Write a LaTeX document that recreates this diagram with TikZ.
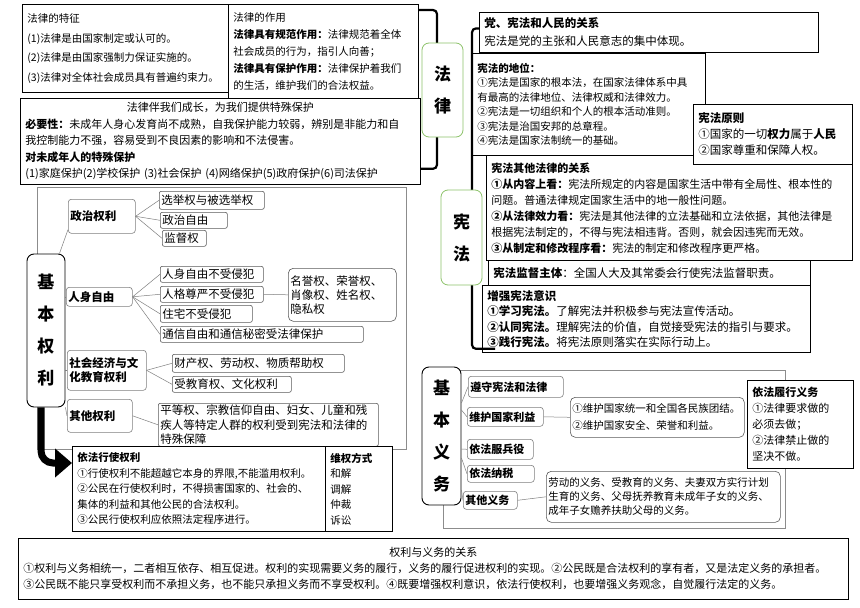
\documentclass[tikz,border=0pt]{standalone}
\usepackage{fontspec}
\setmainfont{Noto Sans CJK SC}
\usepackage{xcolor}
\usepackage{tikz}
\usetikzlibrary{arrows.meta}
\definecolor{labelgreen}{HTML}{8DC26A}
\definecolor{framegray}{HTML}{8C8C8C}
\definecolor{linkgray}{HTML}{7F7F7F}
\definecolor{leafgray}{HTML}{5A5A5A}
\tikzset{
  notebox/.style={
    draw=black,fill=white,line width=.8pt,anchor=north west,
    align=left,inner xsep=5pt,inner ysep=2pt,
    font=\fontsize{11}{16}\selectfont
  },
  catbox/.style={
    rounded corners=3pt,draw=linkgray,fill=white,line width=.6pt,
    anchor=north west,align=left,inner xsep=2pt,inner ysep=1pt,
    font=\bfseries\fontsize{11.5}{13.5}\selectfont
  },
  leafbox/.style={
    rounded corners=2pt,draw=leafgray,fill=white,line width=.6pt,
    anchor=north west,align=left,inner xsep=2pt,inner ysep=1pt,
    font=\fontsize{11.5}{14}\selectfont
  },
  titlebox/.style={
    rounded corners=7pt,draw=black,fill=white,line width=.9pt,
    align=center,inner sep=0pt,font=\bfseries\fontsize{17}{32}\selectfont
  },
  lawbox/.style={titlebox,draw=labelgreen,line width=.8pt},
  groupframe/.style={draw=framegray,line width=.8pt,anchor=north west,inner sep=0pt},
  link/.style={draw=linkgray,line width=.5pt},
  bracket/.style={draw=black,line width=2.2pt,rounded corners=4pt},
  bigarrow/.style={-{Triangle[length=17pt,width=28pt]},draw=black,line width=7pt,rounded corners=12pt}
}
\begin{document}
\begin{tikzpicture}[x=1pt,y=-1pt]
\useasboundingbox[fill=white] (0,0) rectangle (860,608);

\node[notebox,text width=196pt,minimum height=88pt,font=\fontsize{10.5}{19.5}\selectfont] (feature) at (22,4)
{法律的特征\\(1)法律是由国家制定或认可的。\\(2)法律是由国家强制力保证实施的。\\(3)法律对全体社会成员具有普遍约束力。};

\node[notebox,text width=180pt,minimum height=94pt,font=\fontsize{10.5}{17}\selectfont] (role) at (228,4)
{法律的作用\\\textbf{法律具有规范作用：}法律规范着全体\\社会成员的行为，指引人向善；\\\textbf{法律具有保护作用：}法律保护着我们\\的生活，维护我们的合法权益。};

\node[notebox,text width=390pt,minimum height=86pt,font=\fontsize{11}{16.5}\selectfont] (special) at (20,98)
{\makebox[390pt][c]{法律伴我们成长，为我们提供特殊保护}\\\textbf{必要性：}未成年人身心发育尚不成熟，自我保护能力较弱，辨别是非能力和自\\我控制能力不强，容易受到不良因素的影响和不法侵害。\\\textbf{对未成年人的特殊保护}\\(1)家庭保护(2)学校保护~(3)社会保护~(4)网络保护(5)政府保护(6)司法保护};

\coordinate (lawbar) at (437,0);
\coordinate (lawend) at ([yshift=16pt]special.south east);
\draw[bracket] ([yshift=-6pt]role.north east) -| (lawbar |- lawend) -- (lawend);
\node[lawbox,minimum width=41pt,minimum height=94pt] (lawlabel) at (442.5,90) {法\\律};

\node[notebox,text width=329pt,minimum height=40pt,font=\fontsize{11.5}{18}\selectfont] (party) at (479,12)
{\textbf{党、宪法和人民的关系}\\宪法是党的主张和人民意志的集中体现。};

\node[notebox,text width=223pt,minimum height=102pt,font=\fontsize{10.5}{14.5}\selectfont] (status) at (472,53)
{\textbf{宪法的地位：}\\①宪法是国家的根本法，在国家法律体系中具\\有最高的法律地位、法律权威和法律效力。\\②宪法是一切组织和个人的根本活动准则。\\③宪法是治国安邦的总章程。\\④宪法是国家法制统一的基础。};

\node[notebox,text width=356pt,minimum height=105pt,font=\fontsize{11}{16}\selectfont] (relation) at (486,155)
{\textbf{宪法其他法律的关系}\\\textbf{①从内容上看：}宪法所规定的内容是国家生活中带有全局性、根本性的\\问题。普通法律规定国家生活中的地一般性问题。\\\textbf{②从法律效力看：}宪法是其他法律的立法基础和立法依据，其他法律是\\根据宪法制定的，不得与宪法相违背。否则，就会因违宪而无效。\\\textbf{③从制定和修改程序看：}宪法的制定和修改程序更严格。};

\node[notebox,text width=149pt,minimum height=60pt,font=\fontsize{11.5}{16}\selectfont] (principle) at (693,104)
{\textbf{宪法原则}\\①国家的一切\textbf{权力}属于\textbf{人民}\\②国家尊重和保障人权。};

\node[notebox,text width=312pt,minimum height=25pt,font=\fontsize{11.5}{14}\selectfont] (supervise) at (488,260)
{\textbf{宪法监督主体}：全国人大及其常委会行使宪法监督职责。};

\node[notebox,text width=318pt,minimum height=67pt,font=\fontsize{11.5}{15.5}\selectfont] (awareness) at (482,285)
{\textbf{增强宪法意识}\\\textbf{①学习宪法。}了解宪法并积极参与宪法宣传活动。\\\textbf{②认同宪法。}理解宪法的价值，自觉接受宪法的指引与要求。\\\textbf{③践行宪法。}将宪法原则落实在实际行动上。};

\coordinate (xianbar) at (472,0);
\coordinate (xianend) at ([xshift=13pt,yshift=4pt]awareness.south west);
\draw[bracket] ([yshift=4pt]party.west) -| (xianbar |- xianend) -- (xianend);
\node[lawbox,minimum width=41pt,minimum height=95pt] (xianlabel) at (461.5,237.5) {宪\\法};

\node[groupframe,minimum width=369pt,minimum height=262pt] (rightsframe) at (37,187) {};

\node[catbox,text width=63pt,minimum height=34pt] (politics) at (68,199) {政治权利};
\node[catbox,text width=62pt,minimum height=19pt] (person) at (66,287) {人身自由};
\node[catbox,text width=75pt,minimum height=40pt] (socio) at (67,350) {社会经济与文\\化教育权利};
\node[catbox,text width=61pt,minimum height=33pt] (other) at (67,399) {其他权利};

\node[leafbox,text width=101pt,minimum height=18pt] (vote) at (159,191) {选举权与被选举权};
\node[leafbox,text width=63pt,minimum height=16pt] (polfree) at (160,212) {政治自由};
\node[leafbox,text width=40pt,minimum height=16pt] (watch) at (162,230) {监督权};
\node[leafbox,text width=99pt,minimum height=16pt] (body) at (160,266) {人身自由不受侵犯};
\node[leafbox,text width=99pt,minimum height=16pt] (dignity) at (160,286) {人格尊严不受侵犯};
\node[leafbox,text width=88pt,minimum height=17pt] (home) at (160,305) {住宅不受侵犯};
\node[leafbox,text width=199pt,minimum height=16pt] (mail) at (160,326) {通信自由和通信秘密受法律保护};
\node[leafbox,rounded corners=5pt,text width=104pt,minimum height=53pt] (honor) at (288,268) {名誉权、荣誉权、\\肖像权、姓名权、\\隐私权};
\node[leafbox,text width=168pt,minimum height=18pt] (property) at (172,354) {财产权、劳动权、物质帮助权};
\node[leafbox,text width=115pt,minimum height=16pt] (culture) at (172,376) {受教育权、文化权利};
\node[leafbox,text width=216pt,minimum height=43pt,font=\fontsize{11.5}{14.5}\selectfont] (equal) at (158,403) {平等权、宗教信仰自由、妇女、儿童和残\\疾人等特定人群的权利受到宪法和法律的\\特殊保障};

\node[titlebox,minimum width=38pt,minimum height=153pt] (rightslabel) at (46,330.5) {基\\本\\权\\利};

\draw[link] ([xshift=-6pt]rightslabel.north east) -- ([yshift=4pt]politics.south west);
\draw[link] (rightslabel.east |- person.west) -- (person.west);
\draw[link] (rightslabel.east |- socio.west) -- (socio.west);
\draw[link] (rightslabel.south east) -- (other.west);
\draw[link] (politics.east) -- (vote.west);
\draw[link] (politics.east) -- (polfree.west);
\draw[link] (politics.east) -- (watch.west);
\draw[link] (person.east) -- (body.west);
\draw[link] (person.east) -- (dignity.west);
\draw[link] (person.east) -- (home.west);
\draw[link] (person.east) -- (mail.west);
\draw[link] (dignity.east) -- (honor.west);
\draw[link] (socio.east) -- (property.west);
\draw[link] (socio.east) -- (culture.west);
\draw[link] (other.east) -- (equal.west);

\node[notebox,text width=243pt,minimum height=85pt,font=\fontsize{10.5}{15.5}\selectfont] (exercise) at (72,446)
{\textbf{依法行使权利}\\①行使权利不能超越它本身的界限,不能滥用权利。\\②公民在行使权利时，不得损害国家的、社会的、\\集体的利益和其他公民的合法权利。\\③公民行使权利应依照法定程序进行。};
\node[notebox,text width=57pt,minimum height=85pt,font=\fontsize{10.5}{15.5}\selectfont] (ways) at (325,446)
{\textbf{维权方式}\\和解\\调解\\仲裁\\诉讼};

\draw[bigarrow] ([xshift=-5pt]rightslabel.south) |- ([yshift=-17pt]exercise.north west);

\node[groupframe,minimum width=342pt,minimum height=158pt] (dutyframe) at (443,370) {};

\node[catbox,font=\bfseries\fontsize{11}{13}\selectfont,text width=91pt,minimum height=21pt] (obey) at (468,376) {遵守宪法和法律};
\node[catbox,font=\bfseries\fontsize{11}{13}\selectfont,text width=72pt,minimum height=19pt] (defend) at (467,407) {维护国家利益};
\node[catbox,font=\bfseries\fontsize{11}{13}\selectfont,text width=62pt,minimum height=20pt] (army) at (467,439) {依法服兵役};
\node[catbox,font=\bfseries\fontsize{11}{13}\selectfont,text width=63pt,minimum height=17pt] (tax) at (467,465) {依法纳税};
\node[catbox,font=\bfseries\fontsize{11}{13}\selectfont,text width=50pt,minimum height=18pt] (otherduty) at (463,491) {其他义务};

\node[leafbox,rounded corners=5pt,text width=170pt,minimum height=40pt,font=\fontsize{10.5}{17}\selectfont] (unity) at (570,397)
{①维护国家统一和全国各民族团结。\\②维护国家安全、荣誉和利益。};
\node[leafbox,rounded corners=5pt,text width=230pt,minimum height=51pt,font=\fontsize{10.5}{14}\selectfont] (labour) at (546,471)
{劳动的义务、受教育的义务、夫妻双方实行计划\\生育的义务、父母抚养教育未成年子女的义务、\\成年子女赡养扶助父母的义务。};

\node[titlebox,minimum width=39pt,minimum height=138pt] (dutylabel) at (441.5,436) {基\\本\\义\\务};

\draw[link] ([yshift=33pt]dutylabel.east) -- (obey.west);
\draw[link] ([yshift=26pt]dutylabel.east) -- (defend.west);
\draw[link] ([yshift=-13pt]dutylabel.east) -- (army.west);
\draw[link] ([yshift=-22pt]dutylabel.east) -- (tax.west);
\draw[link] ([yshift=-54pt]dutylabel.east) -- (otherduty.west);
\draw[link] (defend.east) -- (unity.west);
\draw[link] (otherduty.east) -- (labour.west);

\node[notebox,text width=96pt,minimum height=88pt,font=\fontsize{11}{16}\selectfont] (fulfil) at (747,380)
{\textbf{依法履行义务}\\①法律要求做的\\必须去做；\\②法律禁止做的\\坚决不做。};

\node[notebox,text width=820pt,minimum height=61pt,font=\fontsize{11}{16}\selectfont] (rightsduty) at (18,538)
{\makebox[820pt][c]{权利与义务的关系}\\①权利与义务相统一，二者相互依存、相互促进。权利的实现需要义务的履行，义务的履行促进权利的实现。②公民既是合法权利的享有者，又是法定义务的承担者。\\③公民既不能只享受权利而不承担义务，也不能只承担义务而不享受权利。④既要增强权利意识，依法行使权利，也要增强义务观念，自觉履行法定的义务。};
\end{tikzpicture}
\end{document}
